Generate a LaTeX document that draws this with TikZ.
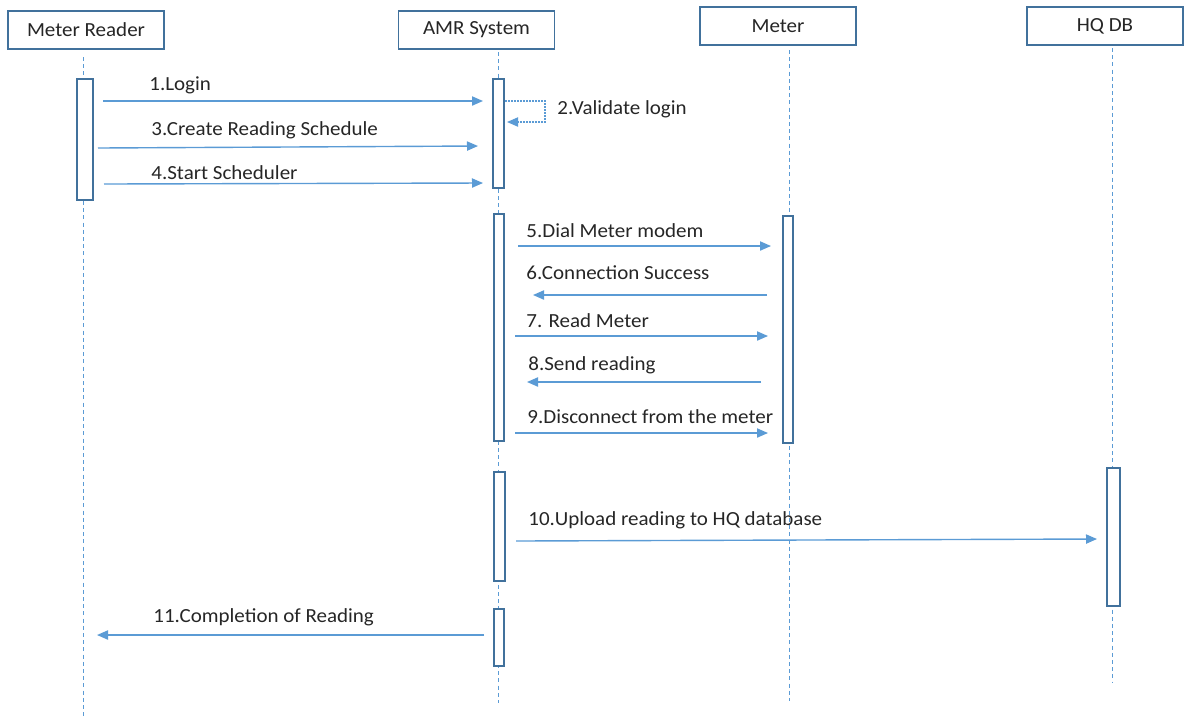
\documentclass[tikz,border=0pt]{standalone}
\usepackage{fontspec}
\setmainfont{Carlito}[FakeStretch=1.05]
\usetikzlibrary{arrows.meta,fit}
\definecolor{msgblue}{HTML}{5B9BD5}
\definecolor{boxblue}{HTML}{41719C}
\definecolor{txt}{HTML}{262626}
\tikzset{
  head/.style={draw=boxblue, line width=0.55pt, fill=white, minimum width=78pt,
    minimum height=19pt, inner sep=0pt, text=txt, font=\fontsize{10pt}{12pt}\selectfont},
  act/.style={draw=boxblue, line width=0.55pt, fill=white, inner sep=0pt},
  life/.style={draw=msgblue, line width=0.5pt, dash pattern=on 2pt off 1.6pt},
  msg/.style={draw=msgblue, line width=0.7pt, -{Triangle[length=5.5pt,width=4.6pt]}},
  selfmsg/.style={draw=msgblue, line width=0.6pt, dash pattern=on 1pt off 0.5pt,
    -{Triangle[length=5.5pt,width=4.6pt]}},
  lbl/.style={anchor=base west, inner sep=0pt, text=txt, font=\fontsize{10pt}{12pt}\selectfont}
}
\begin{document}
\begin{tikzpicture}[x=0.5pt, y=-0.5pt]
\useasboundingbox (0,0) rectangle (1184,720);

% participants
\node[head] (mr)  at (86,30)    {Meter Reader};
\node[head] (amr) at (476.5,30) {AMR System};
\node[head] (met) at (778,26)   {Meter};
\node[head] (hq)  at (1105,26)  {HQ DB};

% lifeline ends
\coordinate (mrend)  at (83,716);
\coordinate (amrend) at (498,703);
\coordinate (metend) at (789,701);
\coordinate (hqend)  at (1112,683);

\draw[life] (83,57)   -- (mrend);
\draw[life] (498,52)  -- (amrend);
\draw[life] (789,50)  -- (metend);
\draw[life] (1112,48) -- (hqend);

% activation bars
\node[act, fit={(77,79) (93,200)}]     (mra)  {};
\node[act, fit={(493,79) (504,188)}]   (amra) {};
\node[act, fit={(494,214) (504,441)}]  (amrb) {};
\node[act, fit={(783,216) (793,443)}]  (meta) {};
\node[act, fit={(494,472) (505,581)}]  (amrc) {};
\node[act, fit={(1107,468) (1120,606)}] (hqa) {};
\node[act, fit={(494,609) (504,666)}]  (amrd) {};

% message end points
\coordinate (m1a) at (103,101);  \coordinate (m1b) at (483,101);
\coordinate (m2a) at (505,101);  \coordinate (m2b) at (545,101);
\coordinate (m2c) at (545,122);  \coordinate (m2d) at (507,122);
\coordinate (m3a) at (98,148);   \coordinate (m3b) at (478,146);
\coordinate (m4a) at (104,184);  \coordinate (m4b) at (483,183);
\coordinate (m5a) at (518,246);  \coordinate (m5b) at (771,246);
\coordinate (m6a) at (767,295);  \coordinate (m6b) at (533,295);
\coordinate (m7a) at (515,336);  \coordinate (m7b) at (768,336);
\coordinate (m8a) at (761,382);  \coordinate (m8b) at (527,382);
\coordinate (m9a) at (515,433);  \coordinate (m9b) at (768,433);
\coordinate (m10a) at (516,541); \coordinate (m10b) at (1097,539);
\coordinate (m11a) at (484,635); \coordinate (m11b) at (97,635);

% messages
\draw[msg] (m1a) -- (m1b);
\draw[selfmsg] (m2a) -- (m2b) -- (m2c) -- (m2d);
\draw[msg] (m3a) -- (m3b);
\draw[msg] (m4a) -- (m4b);
\draw[msg] (m5a) -- (m5b);
\draw[msg] (m6a) -- (m6b);
\draw[msg] (m7a) -- (m7b);
\draw[msg] (m8a) -- (m8b);
\draw[msg] (m9a) -- (m9b);
\draw[msg] (m10a) -- (m10b);
\draw[msg] (m11a) -- (m11b);

% message labels
\node[lbl] (l1)  at (149,90)  {1.Login};
\node[lbl] (l2)  at (557,114) {2.Validate login};
\node[lbl] (l3)  at (151,135) {3.Create Reading Schedule};
\node[lbl] (l4)  at (151,179) {4.Start Scheduler};
\node[lbl] (l5)  at (526,237) {5.Dial Meter modem};
\node[lbl] (l6)  at (526,279) {6.Connection Success};
\node[lbl] (l7)  at (526,327) {7. Read Meter};
\node[lbl] (l8)  at (528,370) {8.Send reading};
\node[lbl] (l9)  at (527,423) {9.Disconnect from the meter};
\node[lbl] (l10) at (528,525) {10.Upload reading to HQ database};
\node[lbl] (l11) at (153,622) {11.Completion of Reading};
\end{tikzpicture}
\end{document}
